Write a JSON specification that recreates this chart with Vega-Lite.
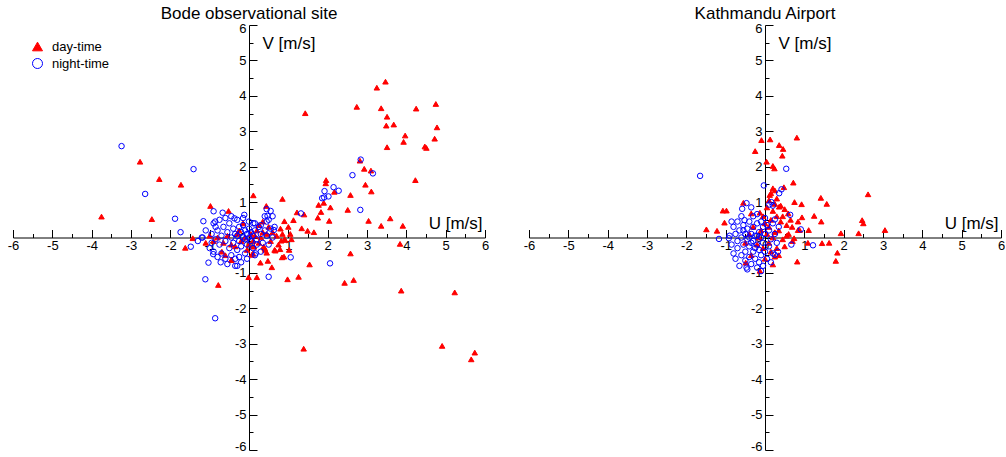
{
"$schema": "https://vega.github.io/schema/vega-lite/v6.json",
"padding": {"left": 7, "top": 5, "right": 0, "bottom": 0},
"config": {"view": {"stroke": null}, "font": "Liberation Sans",
  "point": {"size": 30, "strokeWidth": 1, "opacity": 1},
  "title": {"fontSize": 17, "fontWeight": "normal", "font": "Liberation Sans", "color": "black", "offset": -1}},
"datasets": {
"bode": [
{"period":"day-time","u":-3.75,"v":0.59},{"period":"day-time","u":-2.77,"v":2.14},{"period":"day-time","u":-2.47,"v":0.52},{"period":"day-time","u":-2.28,"v":1.65},{"period":"day-time","u":-1.73,"v":1.49},{"period":"day-time","u":-1.43,"v":-0.02},{"period":"day-time","u":-1.62,"v":-0.29},{"period":"day-time","u":-0.98,"v":0.89},{"period":"day-time","u":-0.52,"v":0.75},{"period":"day-time","u":-0.78,"v":-1.34},{"period":"day-time","u":-0.45,"v":-0.64},{"period":"day-time","u":-0.69,"v":-0.4},{"period":"day-time","u":-0.44,"v":-0.62},
{"period":"day-time","u":0.11,"v":1.19},{"period":"day-time","u":0.85,"v":1.09},{"period":"day-time","u":0.44,"v":0.89},{"period":"day-time","u":1.22,"v":0.71},{"period":"day-time","u":1.4,"v":0.65},{"period":"day-time","u":1.13,"v":0.49},{"period":"day-time","u":0.9,"v":0.46},{"period":"day-time","u":1.34,"v":0.26},{"period":"day-time","u":1.49,"v":0.19},{"period":"day-time","u":1.65,"v":0.15},{"period":"day-time","u":1.77,"v":0.92},{"period":"day-time","u":1.9,"v":0.98},{"period":"day-time","u":1.83,"v":0.72},{"period":"day-time","u":1.75,"v":0.56},{"period":"day-time","u":2.07,"v":0.85},{"period":"day-time","u":2.04,"v":0.47},{"period":"day-time","u":2.51,"v":0.78},{"period":"day-time","u":2.58,"v":1.2},{"period":"day-time","u":3.04,"v":0.47},{"period":"day-time","u":3.36,"v":0.33},{"period":"day-time","u":3.59,"v":0.54},{"period":"day-time","u":3.91,"v":0.33},{"period":"day-time","u":2.96,"v":1.49},{"period":"day-time","u":3.11,"v":1.3},{"period":"day-time","u":4.23,"v":1.62},{"period":"day-time","u":2.17,"v":1.29},{"period":"day-time","u":1.96,"v":1.62},{"period":"day-time","u":1.95,"v":1.53},{"period":"day-time","u":2.82,"v":2.17},{"period":"day-time","u":2.93,"v":1.94},{"period":"day-time","u":3.1,"v":1.89},
{"period":"day-time","u":1.43,"v":3.51},{"period":"day-time","u":2.74,"v":3.69},{"period":"day-time","u":3.25,"v":4.23},{"period":"day-time","u":3.47,"v":4.4},{"period":"day-time","u":3.36,"v":3.65},{"period":"day-time","u":3.51,"v":3.41},{"period":"day-time","u":3.49,"v":3.16},{"period":"day-time","u":3.68,"v":3.19},{"period":"day-time","u":4.25,"v":3.64},{"period":"day-time","u":4.75,"v":3.77},{"period":"day-time","u":4.78,"v":3.11},{"period":"day-time","u":3.97,"v":2.88},{"period":"day-time","u":3.93,"v":2.7},{"period":"day-time","u":4.47,"v":2.57},{"period":"day-time","u":4.51,"v":2.53},{"period":"day-time","u":4.72,"v":2.79},{"period":"day-time","u":3.51,"v":2.55},
{"period":"day-time","u":3.84,"v":-0.18},{"period":"day-time","u":2.58,"v":-0.45},{"period":"day-time","u":1.54,"v":-0.76},{"period":"day-time","u":1.26,"v":-1.11},{"period":"day-time","u":0.98,"v":-1.18},{"period":"day-time","u":2.43,"v":-1.28},{"period":"day-time","u":2.66,"v":-1.2},{"period":"day-time","u":3.87,"v":-1.5},{"period":"day-time","u":5.23,"v":-1.55},{"period":"day-time","u":1.39,"v":-3.14},{"period":"day-time","u":4.91,"v":-3.06},{"period":"day-time","u":5.74,"v":-3.25},{"period":"day-time","u":5.65,"v":-3.44},{"period":"day-time","u":0.2,"v":-1.12},{"period":"day-time","u":-0.01,"v":-1.12},{"period":"day-time","u":0.58,"v":-0.84},{"period":"day-time","u":0.29,"v":-0.71},{"period":"day-time","u":0.48,"v":-0.66},{"period":"day-time","u":0.84,"v":-0.56},{"period":"day-time","u":0.89,"v":-0.54},{"period":"day-time","u":1.02,"v":-0.35},{"period":"day-time","u":0.67,"v":-0.37},{"period":"day-time","u":0.79,"v":-0.33},{"period":"day-time","u":0.82,"v":-0.09},{"period":"day-time","u":0.92,"v":-0.07},{"period":"day-time","u":0.07,"v":-0.49},{"period":"day-time","u":0.13,"v":-0.26},{"period":"day-time","u":0.37,"v":-0.26},{"period":"day-time","u":0.45,"v":-0.43},{"period":"day-time","u":0.41,"v":-0.35},{"period":"day-time","u":1.08,"v":-0.05},
{"period":"day-time","u":0.05,"v":0.1},{"period":"day-time","u":0.1,"v":-0.1},{"period":"day-time","u":0.15,"v":0.05},{"period":"day-time","u":0.2,"v":0.2},{"period":"day-time","u":0.25,"v":-0.15},{"period":"day-time","u":0.3,"v":0.0},{"period":"day-time","u":0.35,"v":0.15},{"period":"day-time","u":0.4,"v":-0.3},{"period":"day-time","u":0.45,"v":0.1},{"period":"day-time","u":0.5,"v":0.3},{"period":"day-time","u":0.55,"v":-0.1},{"period":"day-time","u":0.6,"v":0.15},{"period":"day-time","u":0.7,"v":0.05},{"period":"day-time","u":0.75,"v":-0.2},{"period":"day-time","u":0.8,"v":0.25},{"period":"day-time","u":0.85,"v":0.1},{"period":"day-time","u":-0.1,"v":0.0},{"period":"day-time","u":-0.2,"v":-0.1},{"period":"day-time","u":-0.3,"v":0.1},{"period":"day-time","u":-0.35,"v":-0.25},{"period":"day-time","u":-0.45,"v":-0.2},{"period":"day-time","u":-0.55,"v":0.05},{"period":"day-time","u":-0.65,"v":-0.15},{"period":"day-time","u":-0.8,"v":0.0},{"period":"day-time","u":-0.9,"v":-0.1},{"period":"day-time","u":-1.0,"v":0.05},{"period":"day-time","u":-1.1,"v":-0.15},{"period":"day-time","u":-0.05,"v":-0.35},{"period":"day-time","u":0.1,"v":-0.45},{"period":"day-time","u":0.0,"v":-0.2},{"period":"day-time","u":0.25,"v":0.35},{"period":"day-time","u":0.35,"v":0.45},{"period":"day-time","u":-0.15,"v":0.4},{"period":"day-time","u":-0.25,"v":0.2},{"period":"day-time","u":0.65,"v":-0.35},{"period":"day-time","u":0.9,"v":-0.05},{"period":"day-time","u":1.0,"v":0.3},{"period":"day-time","u":1.05,"v":0.1},{"period":"day-time","u":-0.6,"v":-0.5},
{"period":"night-time","u":-3.24,"v":2.58},{"period":"night-time","u":-2.64,"v":1.23},{"period":"night-time","u":-1.41,"v":1.93},{"period":"night-time","u":-1.88,"v":0.53},{"period":"night-time","u":-1.74,"v":0.15},{"period":"night-time","u":-1.48,"v":-0.26},{"period":"night-time","u":-1.18,"v":0.0},{"period":"night-time","u":-1.16,"v":0.46},{"period":"night-time","u":-0.86,"v":-2.28},{"period":"night-time","u":-1.11,"v":-1.18},{"period":"night-time","u":0.5,"v":-1.11},{"period":"night-time","u":1.06,"v":-0.56},{"period":"night-time","u":2.06,"v":-0.73},{"period":"night-time","u":-1.03,"v":-0.71},{"period":"night-time","u":-0.91,"v":-0.47},{"period":"night-time","u":-0.35,"v":-0.8},{"period":"night-time","u":0.17,"v":-0.45},
{"period":"night-time","u":2.84,"v":2.2},{"period":"night-time","u":3.15,"v":1.81},{"period":"night-time","u":2.63,"v":1.76},{"period":"night-time","u":2.15,"v":1.42},{"period":"night-time","u":2.28,"v":1.32},{"period":"night-time","u":1.92,"v":1.31},{"period":"night-time","u":2.02,"v":1.16},{"period":"night-time","u":1.91,"v":1.13},{"period":"night-time","u":1.86,"v":1.11},{"period":"night-time","u":2.83,"v":0.78},{"period":"night-time","u":1.32,"v":0.68},{"period":"night-time","u":-0.9,"v":0.74},{"period":"night-time","u":-0.67,"v":0.7},{"period":"night-time","u":-0.37,"v":0.54},{"period":"night-time","u":-0.12,"v":0.64},{"period":"night-time","u":0.45,"v":0.8},{"period":"night-time","u":0.47,"v":0.61},{"period":"night-time","u":0.63,"v":0.21},{"period":"night-time","u":0.11,"v":0.4},{"period":"night-time","u":-0.86,"v":0.45},{"period":"night-time","u":-0.72,"v":-0.7},
{"period":"night-time","u":-0.95,"v":0.1},{"period":"night-time","u":-0.85,"v":-0.05},{"period":"night-time","u":-0.8,"v":0.2},{"period":"night-time","u":-0.75,"v":-0.2},{"period":"night-time","u":-0.7,"v":0.05},{"period":"night-time","u":-0.65,"v":0.3},{"period":"night-time","u":-0.6,"v":-0.1},{"period":"night-time","u":-0.55,"v":0.15},{"period":"night-time","u":-0.5,"v":-0.3},{"period":"night-time","u":-0.5,"v":0.4},{"period":"night-time","u":-0.45,"v":0.0},{"period":"night-time","u":-0.4,"v":-0.15},{"period":"night-time","u":-0.4,"v":0.25},{"period":"night-time","u":-0.35,"v":0.1},{"period":"night-time","u":-0.3,"v":-0.35},{"period":"night-time","u":-0.3,"v":0.05},{"period":"night-time","u":-0.25,"v":0.3},{"period":"night-time","u":-0.25,"v":-0.1},{"period":"night-time","u":-0.2,"v":0.15},{"period":"night-time","u":-0.2,"v":-0.25},{"period":"night-time","u":-0.15,"v":0.0},{"period":"night-time","u":-0.15,"v":0.35},{"period":"night-time","u":-0.1,"v":-0.05},{"period":"night-time","u":-0.1,"v":0.2},{"period":"night-time","u":-0.05,"v":-0.2},{"period":"night-time","u":-0.05,"v":0.1},{"period":"night-time","u":0.0,"v":0.0},{"period":"night-time","u":0.0,"v":0.25},{"period":"night-time","u":0.05,"v":-0.1},{"period":"night-time","u":0.05,"v":0.15},{"period":"night-time","u":0.1,"v":0.05},{"period":"night-time","u":0.1,"v":-0.3},{"period":"night-time","u":0.15,"v":0.2},{"period":"night-time","u":0.2,"v":-0.05},{"period":"night-time","u":0.25,"v":0.3},{"period":"night-time","u":0.3,"v":0.1},{"period":"night-time","u":0.35,"v":-0.15},{"period":"night-time","u":0.4,"v":0.2},{"period":"night-time","u":0.45,"v":0.05},{"period":"night-time","u":0.5,"v":-0.2},{"period":"night-time","u":0.55,"v":0.25},{"period":"night-time","u":0.6,"v":0.0},{"period":"night-time","u":0.65,"v":0.3},{"period":"night-time","u":-1.1,"v":0.2},{"period":"night-time","u":-1.0,"v":-0.3},{"period":"night-time","u":-0.9,"v":-0.4},{"period":"night-time","u":-0.8,"v":-0.55},{"period":"night-time","u":-0.7,"v":-0.45},{"period":"night-time","u":-0.6,"v":-0.6},{"period":"night-time","u":-0.55,"v":-0.75},{"period":"night-time","u":-0.45,"v":-0.5},{"period":"night-time","u":-0.35,"v":-0.6},{"period":"night-time","u":-0.3,"v":-0.8},{"period":"night-time","u":-0.25,"v":-0.55},{"period":"night-time","u":-0.2,"v":-0.7},{"period":"night-time","u":-0.1,"v":-0.45},{"period":"night-time","u":-0.05,"v":-0.6},{"period":"night-time","u":0.15,"v":-0.5},{"period":"night-time","u":-0.9,"v":0.4},{"period":"night-time","u":-0.75,"v":0.5},{"period":"night-time","u":-0.6,"v":0.55},{"period":"night-time","u":-0.45,"v":0.6},{"period":"night-time","u":-0.3,"v":0.5},{"period":"night-time","u":-0.15,"v":0.55},{"period":"night-time","u":0.0,"v":0.45},{"period":"night-time","u":0.15,"v":0.4},{"period":"night-time","u":0.3,"v":0.35},{"period":"night-time","u":0.45,"v":0.45},{"period":"night-time","u":-1.2,"v":0.0},{"period":"night-time","u":-1.3,"v":-0.1},{"period":"night-time","u":-0.95,"v":-0.15},{"period":"night-time","u":-0.85,"v":0.3},{"period":"night-time","u":0.5,"v":0.5},{"period":"night-time","u":0.4,"v":0.6},{"period":"night-time","u":0.55,"v":0.75},{"period":"night-time","u":0.6,"v":0.6},{"period":"night-time","u":0.2,"v":-0.2},{"period":"night-time","u":0.3,"v":-0.4}
],
"ktm": [
{"period":"day-time","u":-0.09,"v":2.75},{"period":"day-time","u":0.13,"v":2.77},{"period":"day-time","u":0.81,"v":2.82},{"period":"day-time","u":0.36,"v":2.61},{"period":"day-time","u":0.46,"v":2.5},{"period":"day-time","u":-0.25,"v":2.44},{"period":"day-time","u":0.44,"v":2.31},{"period":"day-time","u":0.04,"v":2.14},{"period":"day-time","u":0.2,"v":2.02},{"period":"day-time","u":0.24,"v":1.95},{"period":"day-time","u":0.72,"v":1.55},{"period":"day-time","u":0.48,"v":1.42},{"period":"day-time","u":0.2,"v":1.39},{"period":"day-time","u":0.25,"v":1.33},{"period":"day-time","u":0.12,"v":1.2},{"period":"day-time","u":2.62,"v":1.22},{"period":"day-time","u":1.42,"v":1.12},{"period":"day-time","u":1.57,"v":0.95},{"period":"day-time","u":0.75,"v":1.0},{"period":"day-time","u":0.93,"v":0.94},{"period":"day-time","u":0.36,"v":0.87},{"period":"day-time","u":-0.55,"v":0.98},{"period":"day-time","u":-1.07,"v":0.76},{"period":"day-time","u":-0.98,"v":0.76},{"period":"day-time","u":-0.35,"v":0.68},{"period":"day-time","u":-0.13,"v":0.7},{"period":"day-time","u":0.94,"v":0.57},{"period":"day-time","u":1.25,"v":0.61},{"period":"day-time","u":1.43,"v":0.45},{"period":"day-time","u":2.47,"v":0.49},{"period":"day-time","u":2.5,"v":0.4},{"period":"day-time","u":1.11,"v":0.21},{"period":"day-time","u":3.05,"v":0.21},{"period":"day-time","u":-1.49,"v":0.23},{"period":"day-time","u":-1.22,"v":0.19},{"period":"day-time","u":-1.03,"v":0.42},{"period":"day-time","u":1.93,"v":0.12},{"period":"day-time","u":2.38,"v":0.12},{"period":"day-time","u":0.59,"v":0.68},{"period":"day-time","u":0.88,"v":0.21},{"period":"day-time","u":1.45,"v":-0.16},{"period":"day-time","u":1.63,"v":-0.15},{"period":"day-time","u":1.84,"v":-0.43},{"period":"day-time","u":1.8,"v":-0.66},{"period":"day-time","u":0.82,"v":-0.68},{"period":"day-time","u":0.2,"v":-0.76},{"period":"day-time","u":-0.13,"v":-0.94},{"period":"day-time","u":-0.49,"v":-0.71},{"period":"day-time","u":1.09,"v":-0.15},{"period":"day-time","u":0.74,"v":-0.02},{"period":"day-time","u":0.84,"v":0.21},{"period":"day-time","u":0.84,"v":0.45},{"period":"day-time","u":0.69,"v":0.3},{"period":"day-time","u":0.25,"v":-0.54},{"period":"day-time","u":0.3,"v":-0.3},
{"period":"day-time","u":0.05,"v":0.1},{"period":"day-time","u":0.1,"v":0.3},{"period":"day-time","u":0.15,"v":0.5},{"period":"day-time","u":0.2,"v":0.75},{"period":"day-time","u":0.25,"v":0.95},{"period":"day-time","u":0.3,"v":1.1},{"period":"day-time","u":0.35,"v":0.2},{"period":"day-time","u":0.4,"v":0.45},{"period":"day-time","u":0.45,"v":0.6},{"period":"day-time","u":0.5,"v":0.8},{"period":"day-time","u":0.55,"v":0.35},{"period":"day-time","u":0.6,"v":0.1},{"period":"day-time","u":0.65,"v":0.5},{"period":"day-time","u":0.7,"v":-0.1},{"period":"day-time","u":0.0,"v":0.4},{"period":"day-time","u":-0.05,"v":0.6},{"period":"day-time","u":-0.1,"v":0.2},{"period":"day-time","u":-0.15,"v":0.0},{"period":"day-time","u":-0.2,"v":-0.2},{"period":"day-time","u":-0.05,"v":-0.3},{"period":"day-time","u":0.1,"v":-0.15},{"period":"day-time","u":0.15,"v":-0.4},{"period":"day-time","u":0.35,"v":-0.5},{"period":"day-time","u":0.5,"v":-0.25},{"period":"day-time","u":0.05,"v":0.85},{"period":"day-time","u":0.1,"v":1.05},{"period":"day-time","u":0.15,"v":1.25},{"period":"day-time","u":0.3,"v":0.6},{"period":"day-time","u":-0.3,"v":0.3},{"period":"day-time","u":-0.4,"v":0.1},{"period":"day-time","u":-0.5,"v":-0.15},{"period":"day-time","u":-0.35,"v":-0.5},{"period":"day-time","u":0.25,"v":0.15},{"period":"day-time","u":0.45,"v":-0.05},{"period":"day-time","u":0.55,"v":0.05},{"period":"day-time","u":0.4,"v":0.9},{"period":"day-time","u":0.0,"v":-0.6},{"period":"day-time","u":0.2,"v":0.0},
{"period":"night-time","u":-1.65,"v":1.74},{"period":"night-time","u":0.54,"v":1.94},{"period":"night-time","u":-0.03,"v":1.47},{"period":"night-time","u":0.42,"v":1.36},{"period":"night-time","u":0.36,"v":1.25},{"period":"night-time","u":0.11,"v":0.93},{"period":"night-time","u":0.2,"v":0.9},{"period":"night-time","u":0.16,"v":1.0},{"period":"night-time","u":-0.47,"v":0.97},{"period":"night-time","u":-0.58,"v":0.81},{"period":"night-time","u":-0.35,"v":0.85},{"period":"night-time","u":-0.2,"v":0.66},{"period":"night-time","u":0.64,"v":0.64},{"period":"night-time","u":0.25,"v":0.51},{"period":"night-time","u":-0.52,"v":0.49},{"period":"night-time","u":0.91,"v":0.23},{"period":"night-time","u":0.67,"v":-0.2},{"period":"night-time","u":1.22,"v":-0.22},{"period":"night-time","u":-1.17,"v":-0.04},{"period":"night-time","u":-0.92,"v":-0.02},{"period":"night-time","u":-0.47,"v":-0.85},{"period":"night-time","u":0.25,"v":-0.49},{"period":"night-time","u":0.33,"v":-0.4},
{"period":"night-time","u":-0.8,"v":0.3},{"period":"night-time","u":-0.75,"v":0.1},{"period":"night-time","u":-0.7,"v":-0.1},{"period":"night-time","u":-0.7,"v":-0.3},{"period":"night-time","u":-0.65,"v":0.2},{"period":"night-time","u":-0.6,"v":0.0},{"period":"night-time","u":-0.6,"v":-0.5},{"period":"night-time","u":-0.55,"v":0.35},{"period":"night-time","u":-0.55,"v":-0.2},{"period":"night-time","u":-0.5,"v":0.1},{"period":"night-time","u":-0.5,"v":-0.4},{"period":"night-time","u":-0.5,"v":-0.65},{"period":"night-time","u":-0.45,"v":0.25},{"period":"night-time","u":-0.45,"v":-0.05},{"period":"night-time","u":-0.4,"v":0.45},{"period":"night-time","u":-0.4,"v":-0.25},{"period":"night-time","u":-0.4,"v":-0.55},{"period":"night-time","u":-0.35,"v":0.1},{"period":"night-time","u":-0.35,"v":-0.75},{"period":"night-time","u":-0.3,"v":0.3},{"period":"night-time","u":-0.3,"v":-0.1},{"period":"night-time","u":-0.3,"v":-0.4},{"period":"night-time","u":-0.25,"v":0.05},{"period":"night-time","u":-0.25,"v":-0.6},{"period":"night-time","u":-0.2,"v":0.4},{"period":"night-time","u":-0.2,"v":-0.2},{"period":"night-time","u":-0.2,"v":-0.85},{"period":"night-time","u":-0.15,"v":0.15},{"period":"night-time","u":-0.15,"v":-0.35},{"period":"night-time","u":-0.15,"v":-0.7},{"period":"night-time","u":-0.1,"v":0.0},{"period":"night-time","u":-0.1,"v":-0.5},{"period":"night-time","u":-0.05,"v":0.3},{"period":"night-time","u":-0.05,"v":-0.15},{"period":"night-time","u":-0.05,"v":-0.8},{"period":"night-time","u":0.0,"v":0.1},{"period":"night-time","u":0.0,"v":-0.4},{"period":"night-time","u":0.05,"v":-0.6},{"period":"night-time","u":0.1,"v":0.2},{"period":"night-time","u":0.1,"v":-0.25},{"period":"night-time","u":0.15,"v":-0.05},{"period":"night-time","u":0.2,"v":-0.45},{"period":"night-time","u":0.25,"v":0.1},{"period":"night-time","u":0.3,"v":-0.15},{"period":"night-time","u":-0.85,"v":-0.2},{"period":"night-time","u":-0.8,"v":-0.45},{"period":"night-time","u":-0.75,"v":-0.6},{"period":"night-time","u":-0.65,"v":-0.8},{"period":"night-time","u":-0.9,"v":0.05},{"period":"night-time","u":-0.85,"v":0.45},{"period":"night-time","u":-0.6,"v":0.6},{"period":"night-time","u":-0.3,"v":0.6},{"period":"night-time","u":0.0,"v":0.55},{"period":"night-time","u":-0.45,"v":-0.9},{"period":"night-time","u":-0.1,"v":-0.95},{"period":"night-time","u":0.05,"v":0.35},{"period":"night-time","u":0.2,"v":0.4},{"period":"night-time","u":-0.25,"v":-0.3},{"period":"night-time","u":-0.55,"v":0.2},{"period":"night-time","u":-0.35,"v":-0.15},{"period":"night-time","u":-0.1,"v":0.45},{"period":"night-time","u":-0.7,"v":0.45},{"period":"night-time","u":0.15,"v":-0.7},{"period":"night-time","u":0.35,"v":0.3},{"period":"night-time","u":-0.2,"v":0.05},{"period":"night-time","u":-0.4,"v":0.0}
]},
"spacing": 44,
"bounds": "flush",
"hconcat": [
{
 "width": 472, "height": 425,
 "title": {"text": "Bode observational site"},
 "data": {"name": "bode"},
 "resolve": {"axis": {"x": "independent", "y": "independent"}},
 "layer": [
  {"mark": {"type": "point", "filled": true},
   "encoding": {
    "x": {"field": "u", "type": "quantitative", "scale": {"domain": [-6, 6], "nice": false, "zero": false},
      "axis": {"orient": "bottom", "offset": -212.5, "values": [-6,-5,-4,-3,-2,-1,0,1,2,3,4,5,6], "labelExpr": "replace(datum.label, '\u2212', '-')", "tickSize": -8, "tickColor": "black", "domainColor": "black", "grid": false, "labelFontSize": 13, "labelColor": "black", "labelPadding": 10, "labelFlush": false, "labelOverlap": false, "labelBound": false, "title": "U [m/s]", "titleFontSize": 17, "titleFontWeight": "normal", "titleColor": "black", "titleX": 469, "titleY": -9, "titleAlign": "right", "titleBaseline": "alphabetic", "titleAngle": 0}},
    "y": {"field": "v", "type": "quantitative", "scale": {"domain": [-6, 6], "nice": false, "zero": false},
      "axis": {"orient": "left", "offset": -236, "values": [-6,-5,-4,-3,-2,-1,0,1,2,3,4,5,6], "labelExpr": "replace(datum.label, '\u2212', '-')", "tickSize": -8, "tickColor": "black", "domainColor": "black", "grid": false, "labelFontSize": 13, "labelColor": "black", "labelPadding": 11, "labelFlush": true, "labelFlushOffset": 3, "labelOverlap": false, "labelBound": false, "title": "V [m/s]", "titleFontSize": 17, "titleFontWeight": "normal", "titleColor": "black", "titleX": 13, "titleY": 23, "titleAlign": "left", "titleBaseline": "alphabetic", "titleAngle": 0}},
    "shape": {"field": "period", "type": "nominal", "scale": {"domain": ["day-time", "night-time"], "range": ["triangle-up", "circle"]},
      "legend": {"title": null, "orient": "none", "legendX": 18, "legendY": 15, "labelFontSize": 13, "labelColor": "black", "symbolSize": 100, "rowPadding": 2, "labelOffset": 8}},
    "fill": {"field": "period", "type": "nominal", "scale": {"domain": ["day-time", "night-time"], "range": ["#ff0000", "transparent"]},
      "legend": {"title": null, "orient": "none", "legendX": 18, "legendY": 15, "labelFontSize": 13, "labelColor": "black", "symbolSize": 100, "rowPadding": 2, "labelOffset": 8}},
    "stroke": {"field": "period", "type": "nominal", "scale": {"domain": ["day-time", "night-time"], "range": ["#ff0000", "#0000ff"]},
      "legend": {"title": null, "orient": "none", "legendX": 18, "legendY": 15, "labelFontSize": 13, "labelColor": "black", "symbolSize": 100, "rowPadding": 2, "labelOffset": 8}}
   }},
  {"mark": {"type": "point", "opacity": 0},
   "encoding": {
    "x": {"field": "u", "type": "quantitative", "axis": {"orient": "bottom", "offset": -212.5, "values": [-5.5,-4.5,-3.5,-2.5,-1.5,-0.5,0.5,1.5,2.5,3.5,4.5,5.5], "tickSize": -4, "tickColor": "black", "domain": false, "labels": false, "grid": false, "title": null}},
    "y": {"field": "v", "type": "quantitative", "axis": {"orient": "left", "offset": -236, "values": [-5.5,-4.5,-3.5,-2.5,-1.5,-0.5,0.5,1.5,2.5,3.5,4.5,5.5], "tickSize": -4, "tickColor": "black", "domain": false, "labels": false, "grid": false, "title": null}}
   }}
 ]
},
{
 "width": 472, "height": 425,
 "title": {"text": "Kathmandu Airport"},
 "data": {"name": "ktm"},
 "resolve": {"axis": {"x": "independent", "y": "independent"}},
 "layer": [
  {"mark": {"type": "point", "filled": true},
   "encoding": {
    "x": {"field": "u", "type": "quantitative", "scale": {"domain": [-6, 6], "nice": false, "zero": false},
      "axis": {"orient": "bottom", "offset": -212.5, "values": [-6,-5,-4,-3,-2,-1,0,1,2,3,4,5,6], "labelExpr": "replace(datum.label, '\u2212', '-')", "tickSize": -8, "tickColor": "black", "domainColor": "black", "grid": false, "labelFontSize": 13, "labelColor": "black", "labelPadding": 10, "labelFlush": false, "labelOverlap": false, "labelBound": false, "title": "U [m/s]", "titleFontSize": 17, "titleFontWeight": "normal", "titleColor": "black", "titleX": 469, "titleY": -9, "titleAlign": "right", "titleBaseline": "alphabetic", "titleAngle": 0}},
    "y": {"field": "v", "type": "quantitative", "scale": {"domain": [-6, 6], "nice": false, "zero": false},
      "axis": {"orient": "left", "offset": -236, "values": [-6,-5,-4,-3,-2,-1,0,1,2,3,4,5,6], "labelExpr": "replace(datum.label, '\u2212', '-')", "tickSize": -8, "tickColor": "black", "domainColor": "black", "grid": false, "labelFontSize": 13, "labelColor": "black", "labelPadding": 11, "labelFlush": true, "labelFlushOffset": 3, "labelOverlap": false, "labelBound": false, "title": "V [m/s]", "titleFontSize": 17, "titleFontWeight": "normal", "titleColor": "black", "titleX": 13, "titleY": 23, "titleAlign": "left", "titleBaseline": "alphabetic", "titleAngle": 0}},
    "shape": {"field": "period", "type": "nominal", "scale": {"domain": ["day-time", "night-time"], "range": ["triangle-up", "circle"]},
      "legend": {"title": null, "orient": "none", "legendX": 18, "legendY": 15, "labelFontSize": 13, "labelColor": "black", "symbolSize": 100, "rowPadding": 2, "labelOffset": 8}},
    "fill": {"field": "period", "type": "nominal", "scale": {"domain": ["day-time", "night-time"], "range": ["#ff0000", "transparent"]},
      "legend": {"title": null, "orient": "none", "legendX": 18, "legendY": 15, "labelFontSize": 13, "labelColor": "black", "symbolSize": 100, "rowPadding": 2, "labelOffset": 8}},
    "stroke": {"field": "period", "type": "nominal", "scale": {"domain": ["day-time", "night-time"], "range": ["#ff0000", "#0000ff"]},
      "legend": {"title": null, "orient": "none", "legendX": 18, "legendY": 15, "labelFontSize": 13, "labelColor": "black", "symbolSize": 100, "rowPadding": 2, "labelOffset": 8}}
   }},
  {"mark": {"type": "point", "opacity": 0},
   "encoding": {
    "x": {"field": "u", "type": "quantitative", "axis": {"orient": "bottom", "offset": -212.5, "values": [-5.5,-4.5,-3.5,-2.5,-1.5,-0.5,0.5,1.5,2.5,3.5,4.5,5.5], "tickSize": -4, "tickColor": "black", "domain": false, "labels": false, "grid": false, "title": null}},
    "y": {"field": "v", "type": "quantitative", "axis": {"orient": "left", "offset": -236, "values": [-5.5,-4.5,-3.5,-2.5,-1.5,-0.5,0.5,1.5,2.5,3.5,4.5,5.5], "tickSize": -4, "tickColor": "black", "domain": false, "labels": false, "grid": false, "title": null}}
   }}
 ]
}
]
}
